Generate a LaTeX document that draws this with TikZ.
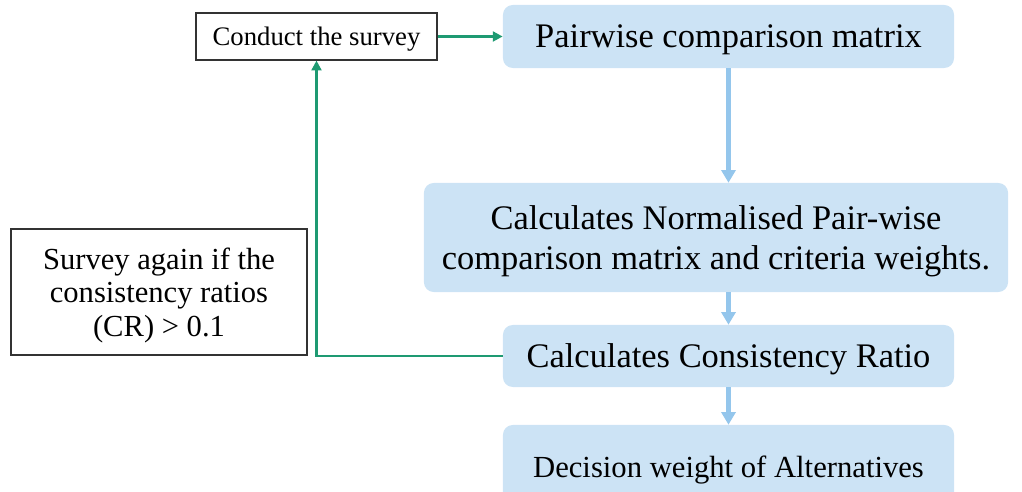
\documentclass[tikz,border=0pt]{standalone}
\usepackage{fontspec}
\setmainfont{Liberation Serif}
\usepackage{xcolor}
\usetikzlibrary{positioning,arrows.meta}
\definecolor{boxblue}{HTML}{CCE3F5}
\definecolor{flowblue}{HTML}{94C6EC}
\definecolor{loopgreen}{HTML}{1E9A72}

\begin{document}
\begin{tikzpicture}[x=0.025cm, y=-0.025cm,
  stage/.style={rounded corners=7pt, fill=boxblue, draw=none, inner sep=0pt,
                align=center, text depth=0pt, font=\fontsize{24.5}{28}\selectfont},
  note/.style={draw=black!80, fill=white, line width=0.8pt, inner sep=0pt,
               align=center, text depth=0pt, font=\fontsize{21.75}{24}\selectfont},
  flow/.style={-{Triangle[width=10pt,length=9pt]}, line width=3pt, color=flowblue},
  back/.style={-{Triangle[width=7pt,length=7pt]}, line width=2pt, color=loopgreen}
]
\clip (0,0) rectangle (1022,492);

% process stages
\node[stage, minimum width=11.275cm, minimum height=1.575cm] (pcm) at (728.5,36.5) {Pairwise comparison matrix};
\node[stage, minimum width=14.6cm, minimum height=2.725cm] (norm) at (716,237.5)
  {Calculates Normalised Pair-wise\\comparison matrix and criteria weights.};
\node[stage, minimum width=11.275cm, minimum height=1.55cm] (ccr) at (728.5,356) {Calculates Consistency Ratio};
\node[stage, minimum width=11.275cm, minimum height=2.1cm, font=\fontsize{21.8}{25}\selectfont] (dec) at (728.5,467)
  {Decision weight of Alternatives};

% survey boxes
\node[note, minimum width=6.025cm, minimum height=1.175cm, font=\fontsize{19}{21}\selectfont] (survey) at (316.5,36.5) {Conduct the survey};
\node[note, minimum width=7.4cm, minimum height=3.15cm] (again) at (159,292)
  {Survey again if the\\consistency ratios\\(CR) > 0.1};

% connectors
\draw[flow] (pcm.south) -- (pcm.south |- norm.north);
\draw[flow] (ccr.north |- norm.south) -- (ccr.north);
\draw[flow] (ccr.south) -- (dec.north);
\draw[back] (survey.east) -- (pcm.west);
\draw[back] (ccr.west) -| (survey.south);
\end{tikzpicture}
\end{document}
